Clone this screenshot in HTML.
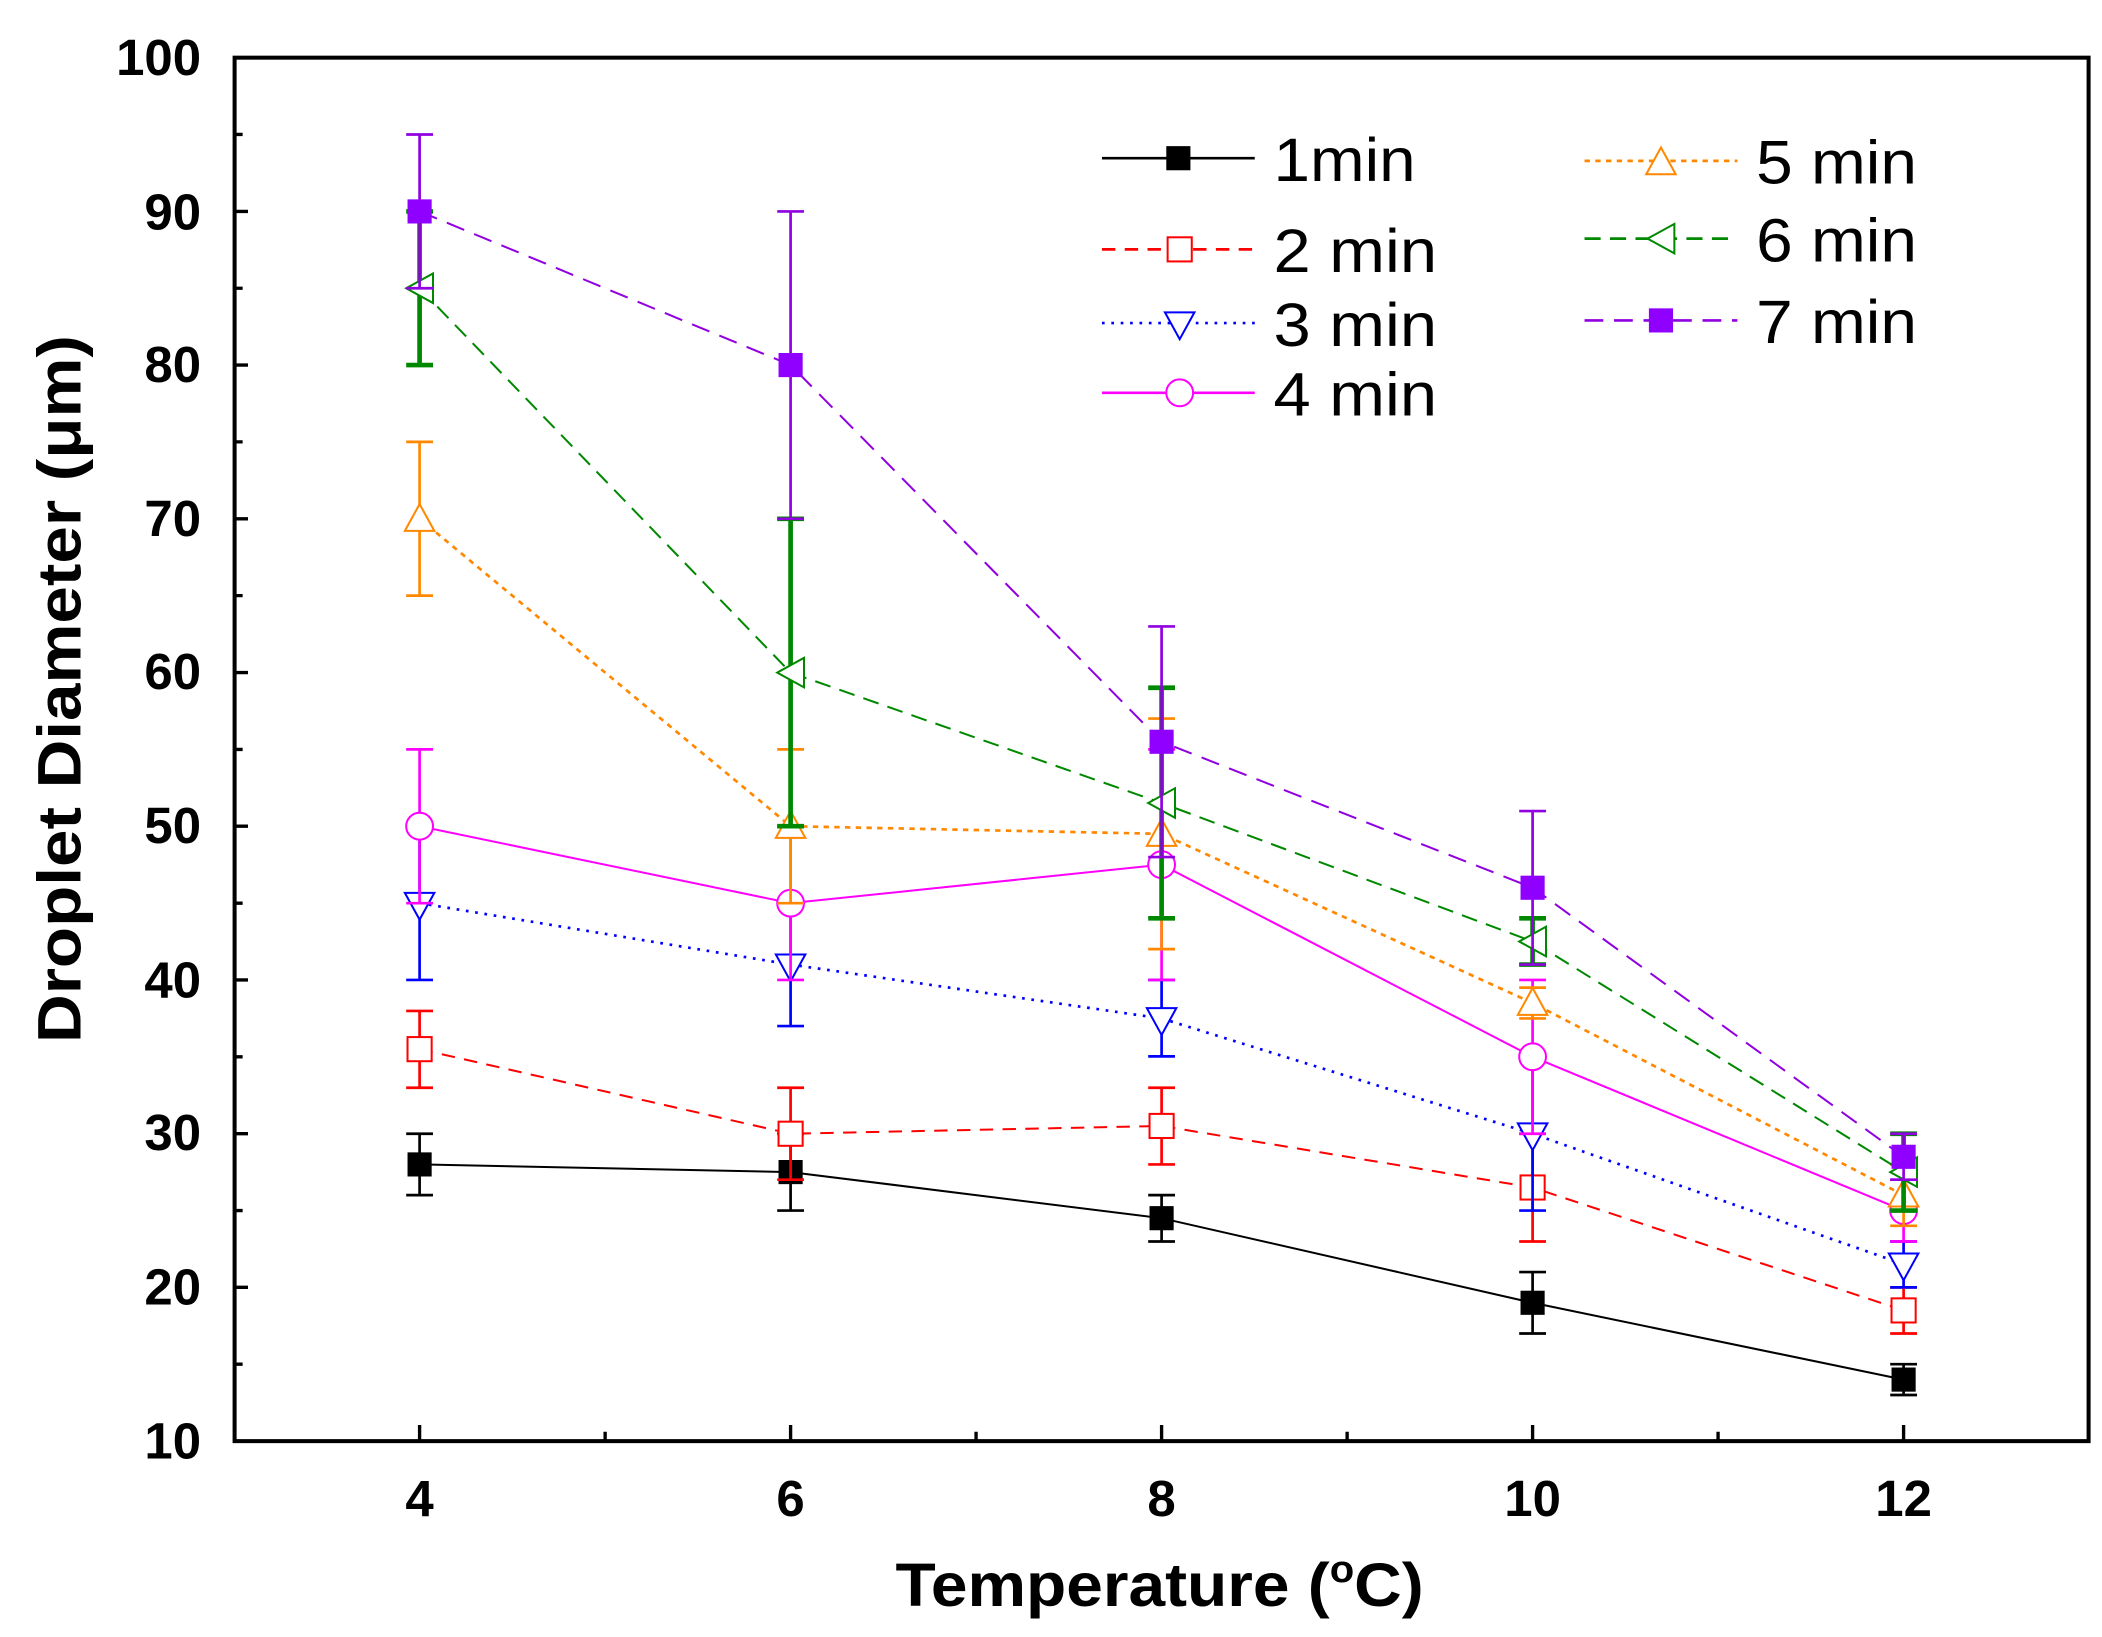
<!DOCTYPE html>
<html><head><style>body{margin:0;background:#fff}svg{display:block}</style></head><body>
<svg width="2102" height="1637" viewBox="0 0 1568 1221.1" xmlns="http://www.w3.org/2000/svg" font-family="Liberation Sans, Arial, sans-serif">
<rect x="0" y="0" width="1568" height="1222" fill="#fff"/>
<rect x="175" y="43" width="1383" height="1032" fill="none" stroke="#000" stroke-width="3"/>
<g stroke="#000" stroke-width="2.5">
<path d="M175 960.3h10M175 845.7h10M175 731h10M175 616.3h10M175 501.7h10M175 387h10M175 272.3h10M175 157.7h10"/>
<path d="M175 1017.6h6M175 903h6M175 788.3h6M175 673.7h6M175 559h6M175 444.3h6M175 329.6h6M175 215h6M175 100.3h6"/>
<path d="M313 1075v-12M589.75 1075v-12M866.5 1075v-12M1143.25 1075v-12M1420 1075v-12"/>
<path d="M451.4 1075v-7M728.1 1075v-7M1004.9 1075v-7M1281.6 1075v-7"/>
</g>
<g font-size="38" font-weight="bold" text-anchor="end">
<text x="150" y="1088">10</text><text x="150" y="973">20</text><text x="150" y="858">30</text><text x="150" y="744">40</text><text x="150" y="629">50</text><text x="150" y="514">60</text><text x="150" y="400">70</text><text x="150" y="285">80</text><text x="150" y="171">90</text><text x="150" y="56">100</text>
</g>
<g font-size="38" font-weight="bold" text-anchor="middle">
<text x="313" y="1131">4</text><text x="589.75" y="1131">6</text><text x="866.5" y="1131">8</text><text x="1143.25" y="1131">10</text><text x="1420" y="1131">12</text>
</g>
<text x="668" y="1198" font-size="46" font-weight="bold" textLength="394" lengthAdjust="spacingAndGlyphs">Temperature (<tspan font-size="28" dy="-18">o</tspan><tspan dy="18">C)</tspan></text>
<text transform="translate(60 778) rotate(-90)" font-size="46" font-weight="bold" textLength="528" lengthAdjust="spacingAndGlyphs">Droplet Diameter (μm)</text>
<!-- 1min -->
<g stroke="#000" stroke-width="2" fill="none">
<path d="M313 845.7V891.5M303 845.7h20M303 891.5h20M589.75 845.7V903M579.75 845.7h20M579.75 903h20M866.5 891.5V926.1M856.5 891.5h20M856.5 926.1h20M1143.25 948.9V994.7M1133.25 948.9h20M1133.25 994.7h20M1420 1017.6V1040.6M1410 1017.6h20M1410 1040.6h20"/>
<polyline points="313,868.6 589.75,874.3 866.5,908.7 1143.25,971.8 1420,1029.1" stroke-width="1.5"/>
</g>
<g fill="#000"><rect x="304" y="859.6" width="18" height="18"/><rect x="580.75" y="865.3" width="18" height="18"/><rect x="857.5" y="899.7" width="18" height="18"/><rect x="1134.25" y="962.8" width="18" height="18"/><rect x="1411" y="1020.1" width="18" height="18"/></g>
<!-- 2min -->
<g stroke="#f00" stroke-width="2" fill="none">
<path d="M313 754.1V811.4M303 754.1h20M303 811.4h20M589.75 811.4V880M579.75 811.4h20M579.75 880h20M866.5 811.4V868.6M856.5 811.4h20M856.5 868.6h20M1143.25 845.7V926.1M1133.25 845.7h20M1133.25 926.1h20M1420 960.3V994.7M1410 960.3h20M1410 994.7h20"/>
<polyline points="313,782.6 589.75,845.7 866.5,839.9 1143.25,885.8 1420,977.5" stroke-dasharray="10 7" stroke-width="1.5"/>
<g stroke-width="1.5" fill="#fff"><rect x="304" y="773.6" width="18" height="18"/><rect x="580.75" y="836.7" width="18" height="18"/><rect x="857.5" y="830.9" width="18" height="18"/><rect x="1134.25" y="876.8" width="18" height="18"/><rect x="1411" y="968.5" width="18" height="18"/></g>
</g>
<!-- 3min -->
<g stroke="#00f" stroke-width="2" fill="none">
<path d="M313 616.3V731M303 616.3h20M303 731h20M589.75 673.7V765.4M579.75 673.7h20M579.75 765.4h20M866.5 731V788M856.5 731h20M856.5 788h20M1143.25 788V903M1133.25 788h20M1133.25 903h20M1420 926.1V960.3M1410 926.1h20M1410 960.3h20"/>
<polyline points="313,673.7 589.75,719.5 866.5,759.7 1143.25,845.7 1420,943.1" stroke-dasharray="2 5" stroke-width="2"/>
<g stroke-width="1.5" fill="#fff"><path d="M302 666l22 0l-11 20z"/><path d="M578.75 712l22 0l-11 20z"/><path d="M855.5 752l22 0l-11 20z"/><path d="M1132.25 838l22 0l-11 20z"/><path d="M1409 935l22 0l-11 20z"/></g>
</g>
<!-- 4min -->
<g stroke="#f0f" stroke-width="2" fill="none">
<path d="M313 559V673.7M303 559h20M303 673.7h20M589.75 616.3V731M579.75 616.3h20M579.75 731h20M866.5 559V731M856.5 559h20M856.5 731h20M1143.25 731V845.7M1133.25 731h20M1133.25 845.7h20M1420 880V926.1M1410 880h20M1410 926.1h20"/>
<polyline points="313,616.3 589.75,673.7 866.5,645 1143.25,788.3 1420,903" stroke-width="1.5"/>
<g stroke-width="1.5" fill="#fff"><circle cx="313" cy="616.3" r="10"/><circle cx="589.75" cy="673.7" r="10"/><circle cx="866.5" cy="645" r="10"/><circle cx="1143.25" cy="788.3" r="10"/><circle cx="1420" cy="903" r="10"/></g>
</g>
<!-- 5min -->
<g stroke="#f80" stroke-width="2" fill="none">
<path d="M313 329.6V444.3M303 329.6h20M303 444.3h20M589.75 559V673.7M579.75 559h20M579.75 673.7h20M866.5 536V708M856.5 536h20M856.5 708h20M1143.25 736.7V759.7M1133.25 736.7h20M1133.25 759.7h20M1420 868.6V914.4M1410 868.6h20M1410 914.4h20"/>
<polyline points="313,387 589.75,616.3 866.5,622 1143.25,748.2 1420,891.5" stroke-dasharray="4 4" stroke-width="2"/>
<g stroke-width="1.5" fill="#fff"><path d="M302 396l22 0l-11 -20z"/><path d="M578.75 625l22 0l-11 -20z"/><path d="M855.5 631l22 0l-11 -20z"/><path d="M1132.25 757l22 0l-11 -20z"/><path d="M1409 900l22 0l-11 -20z"/></g>
</g>
<!-- 6min -->
<g stroke="#080" stroke-width="3.5" fill="none">
<path d="M313 157.7V272.3M303 157.7h20M303 272.3h20M589.75 387V616.3M579.75 387h20M579.75 616.3h20M866.5 513V685M856.5 513h20M856.5 685h20M1143.25 685V719.5M1133.25 685h20M1133.25 719.5h20M1420 845.7V903M1410 845.7h20M1410 903h20"/>
<polyline points="313,215 589.75,501.7 866.5,599 1143.25,702.3 1420,874.3" stroke-dasharray="12 7" stroke-width="1.5"/>
<g stroke-width="1.5" fill="#fff"><path d="M323 204l0 22l-20 -11z"/><path d="M599.75 490.7l0 22l-20 -11z"/><path d="M876.5 588l0 22l-20 -11z"/><path d="M1153.25 691.3l0 22l-20 -11z"/><path d="M1430 863.3l0 22l-20 -11z"/></g>
</g>
<!-- 7min -->
<g stroke="#9000e0" stroke-width="2" fill="none">
<path d="M313 100.3V215M303 100.3h20M303 215h20M589.75 157.7V387M579.75 157.7h20M579.75 387h20M866.5 467.3V639.3M856.5 467.3h20M856.5 639.3h20M1143.25 605V719.5M1133.25 605h20M1133.25 719.5h20M1420 845.7V880M1410 845.7h20M1410 880h20"/>
<polyline points="313,157.7 589.75,272.3 866.5,553.3 1143.25,662.2 1420,862.9" stroke-dasharray="14 8" stroke-width="1.5"/>
</g>
<g fill="#9000ff"><rect x="304" y="148.7" width="18" height="18"/><rect x="580.75" y="263.3" width="18" height="18"/><rect x="857.5" y="544.3" width="18" height="18"/><rect x="1134.25" y="653.2" width="18" height="18"/><rect x="1411" y="853.9" width="18" height="18"/></g>
<!-- legend -->
<g font-size="46" fill="#000">
<path d="M822 118h114" stroke="#000" stroke-width="2"/><rect x="870" y="109" width="18" height="18" fill="#000"/><text x="950" y="135" textLength="106" lengthAdjust="spacingAndGlyphs">1min</text>
<path d="M822 186h114" stroke="#f00" stroke-width="2" stroke-dasharray="10 7"/><rect x="871" y="177" width="18" height="18" fill="#fff" stroke="#f00" stroke-width="1.5"/><text x="950" y="203" textLength="122" lengthAdjust="spacingAndGlyphs">2 min</text>
<path d="M822 241h114" stroke="#00f" stroke-width="2" stroke-dasharray="2 5"/><path d="M869 233l22 0l-11 20z" fill="#fff" stroke="#00f" stroke-width="1.5"/><text x="950" y="258" textLength="122" lengthAdjust="spacingAndGlyphs">3 min</text>
<path d="M822 293h114" stroke="#f0f" stroke-width="2"/><circle cx="880" cy="293" r="10" fill="#fff" stroke="#f0f" stroke-width="1.5"/><text x="950" y="310" textLength="122" lengthAdjust="spacingAndGlyphs">4 min</text>
<path d="M1182 120h114" stroke="#f80" stroke-width="2" stroke-dasharray="4 4"/><path d="M1228 130l22 0l-11 -20z" fill="#fff" stroke="#f80" stroke-width="1.5"/><text x="1310" y="137" textLength="120" lengthAdjust="spacingAndGlyphs">5 min</text>
<path d="M1182 178h114" stroke="#080" stroke-width="2" stroke-dasharray="12 7"/><path d="M1249 167l0 22l-20 -11z" fill="#fff" stroke="#080" stroke-width="1.5"/><text x="1310" y="195" textLength="120" lengthAdjust="spacingAndGlyphs">6 min</text>
<path d="M1182 239h114" stroke="#9000e0" stroke-width="2" stroke-dasharray="14 8"/><rect x="1230" y="230" width="18" height="18" fill="#9000ff"/><text x="1310" y="256" textLength="120" lengthAdjust="spacingAndGlyphs">7 min</text>
</g>
</svg>
</body></html>
